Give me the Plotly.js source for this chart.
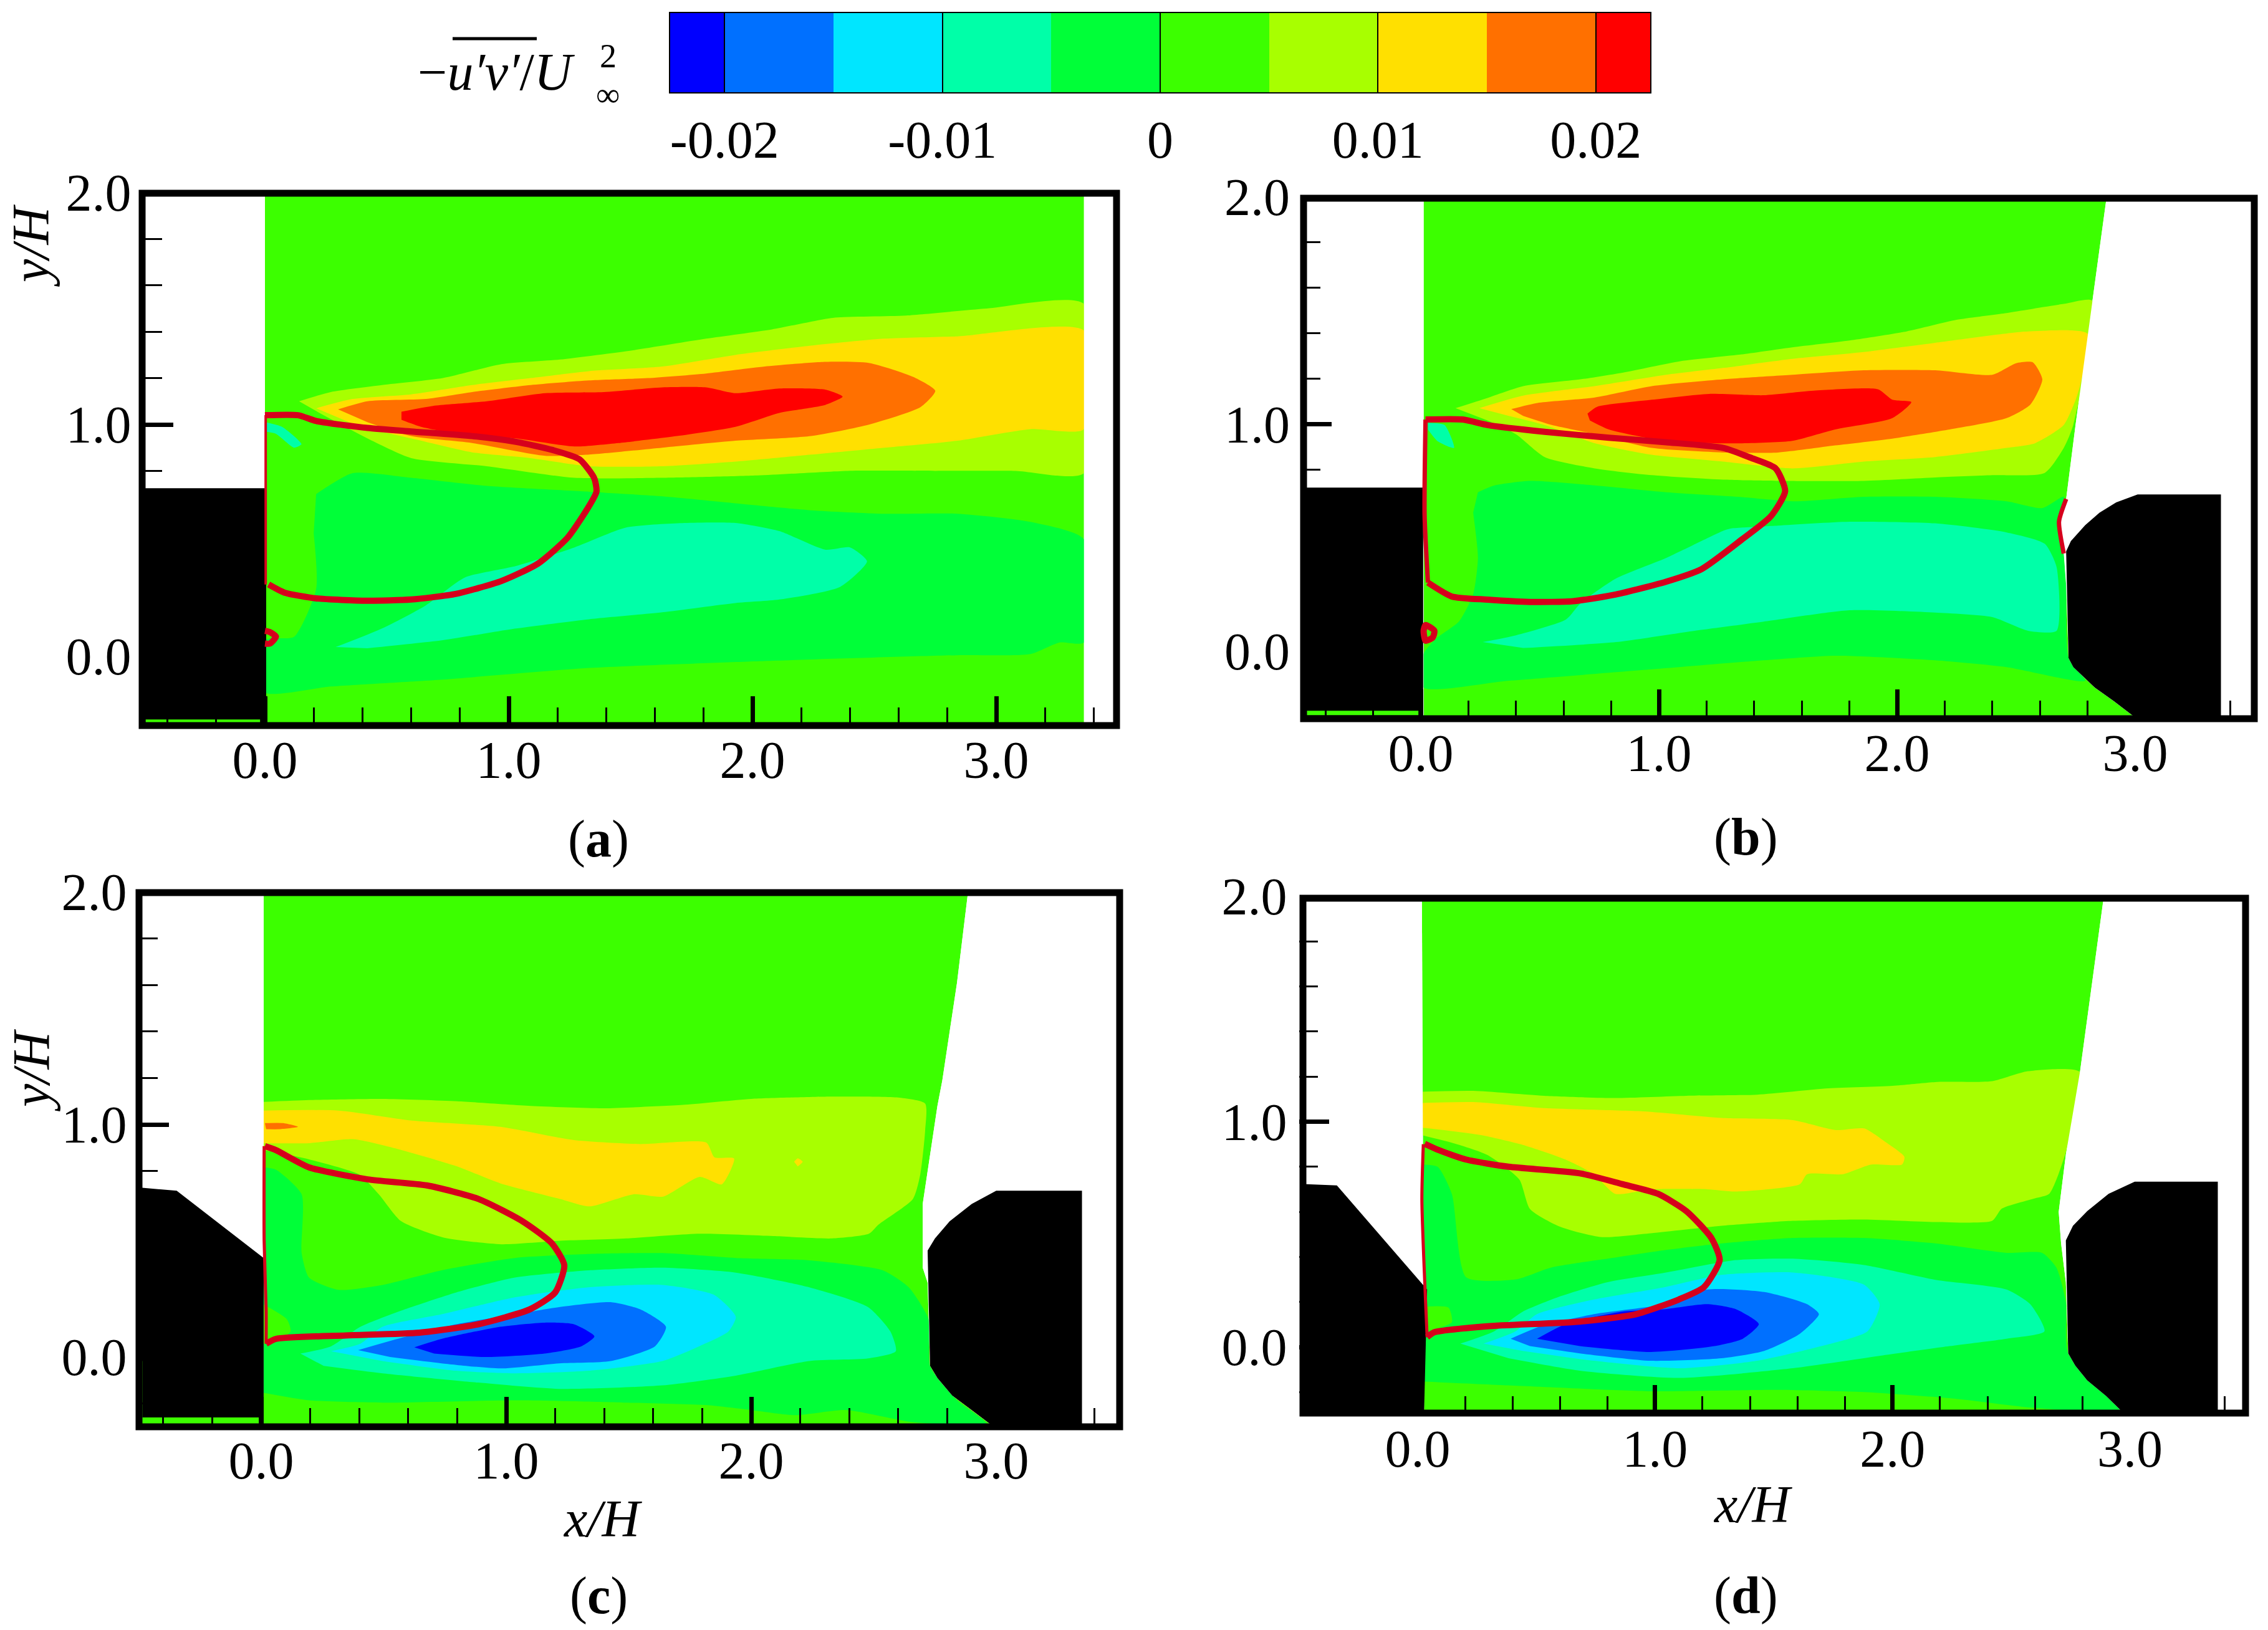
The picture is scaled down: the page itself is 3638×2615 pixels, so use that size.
<!DOCTYPE html>
<html>
<head>
<meta charset="utf-8">
<script src="https://cdn.plot.ly/plotly-3.0.1.min.js"></script>
<style>html,body{margin:0;padding:0;background:#fff}</style>
</head>
<body>
<div id="chart" style="width:3638px;height:2615px"></div>
<script>
// Colour levels of -u'v'/U^2 (legend)
const levelEdges = [-0.0225,-0.02,-0.015,-0.01,-0.005,0,0.005,0.01,0.015,0.02,0.0225];
const levelColors = ['#0000ff','#0070ff','#00e6ff','#00ffa8','#00ff38','#3cff00','#a8ff00','#ffe000','#ff7000','#ff0000'];
const levelTickVals = [-0.02,-0.01,0,0.01,0.02];
const levelTickText = ['-0.02','-0.01','0','0.01','0.02'];
const BLUE=0,MID=1,CYAN=2,TEAL=3,GREEN=4,LIME=5,YG=6,YEL=7,ORA=8,RED=9;

// ---------- panel (a) ----------
const aBase = [[0,-.3],[0,2],[3.36,2],[3.36,-.3]];
const aMaskL = [[-.5,-.3],[-.5,2],[0,2],[0,-.3]];
const aMaskR = [[3.36,-.3],[3.36,2],[3.5,2],[3.5,-.3]];
const aYG = [[.14,1.10],[.27,1.14],[.48,1.17],[.73,1.20],[.97,1.26],[1.21,1.28],[1.51,1.32],[1.81,1.37],[2.08,1.41],[2.33,1.46],[2.63,1.47],[2.96,1.50],[3.36,1.52],[3.36,.79],[3.08,.80],[2.75,.80],[2.39,.80],[2.02,.78],[1.63,.77],[1.27,.77],[.91,.82],[.60,.855],[.42,.94],[.24,1.04]];
const aYel = [[.21,1.07],[.36,1.11],[.60,1.13],[.85,1.17],[1.09,1.20],[1.33,1.23],[1.63,1.25],[1.93,1.30],[2.24,1.34],[2.54,1.37],[2.84,1.38],[3.36,1.405],[3.36,.98],[3.14,.98],[2.84,.93],[2.54,.90],[2.24,.87],[1.93,.84],[1.63,.82],[1.33,.82],[1.09,.855],[.85,.88],[.60,.94],[.39,.99]];
const aOra = [[.30,1.065],[.42,1.10],[.66,1.11],[.85,1.14],[1.09,1.17],[1.33,1.19],[1.57,1.20],[1.81,1.22],[2.05,1.25],[2.30,1.27],[2.48,1.265],[2.66,1.205],[2.75,1.145],[2.69,1.075],[2.48,1.00],[2.24,.95],[1.93,.93],[1.63,.90],[1.33,.87],[1.15,.865],[.85,.92],[.60,.95],[.42,1.01]];
const aRed = [[.56,1.055],[.69,1.08],[.91,1.10],[1.15,1.135],[1.39,1.14],[1.63,1.16],[1.81,1.16],[1.93,1.135],[2.11,1.155],[2.30,1.15],[2.37,1.12],[2.30,1.085],[2.11,1.05],[1.93,.99],[1.69,.95],[1.45,.92],[1.27,.905],[1.03,.94],[.79,.96],[.64,.99],[.56,1.02]];
const aGreen = [[.21,.70],[.36,.79],[.60,.77],[.91,.735],[1.33,.71],[1.63,.69],[1.93,.66],[2.24,.63],[2.54,.615],[2.84,.615],[3.14,.58],[3.36,.505],[3.36,.06],[3.26,.06],[3.14,.01],[2.84,.005],[2.05,-.02],[1.33,-.05],[.73,-.10],[.27,-.13],[0,-.155],[0,.07],[.12,.085],[.21,.29],[.20,.53]];
const aTeal = [[.29,.04],[.48,.12],[.66,.22],[.82,.34],[1.03,.39],[1.27,.47],[1.48,.555],[1.72,.575],[1.93,.575],[2.11,.54],[2.30,.46],[2.40,.47],[2.47,.41],[2.36,.30],[2.11,.245],[1.93,.23],[1.63,.19],[1.33,.16],[1.03,.12],[.73,.07],[.42,.035]];
const aTeal2 = [[0,1.01],[.07,.99],[.15,.915],[.12,.90],[.045,.96],[0,.97]];
const aBlack = [[-.5,-.3],[-.5,.725],[.005,.725],[.005,-.3]];
const aStrip = [[-.49,-.29],[-.02,-.29],[-.02,-.272],[-.49,-.272]];
const aSep = [[0,1.04],[.136,1.04],[.21,1.015],[.42,.985],[.60,.97],[.85,.95],[1.03,.925],[1.18,.89],[1.29,.85],[1.35,.77],[1.36,.71],[1.31,.615],[1.24,.51],[1.12,.40],[.97,.325],[.785,.27],[.60,.245],[.42,.24],[.21,.25],[.08,.275],[.015,.31]];
const aLoop = [[0,.11],[.02,.105],[.045,.085],[.02,.055],[0,.055]];
const aSepWall = [[.003,1.04],[.003,.31]];

// ---------- panel (b) ----------
const bWallUp = [[2.88,2],[2.82,1.54],[2.75,1.0],[2.71,.67],[2.68,.57],[2.70,.43],[2.71,.29]];
const bArcLow = [[2.72,-.03],[2.74,-.07],[2.79,-.12],[2.83,-.16],[2.91,-.22],[3.01,-.3]];
const bBase = [[.012,2],...bWallUp,...bArcLow,[.012,-.3]];
const bMaskL = [[-.5,-.3],[-.5,2],[.012,2],[.012,-.3]];
const bMaskR = [...bWallUp,...bArcLow,[3.5,-.3],[3.5,2]];
const bYG = [[.146,1.07],[.28,1.115],[.43,1.167],[.67,1.197],[.85,1.227],[1.09,1.277],[1.355,1.308],[1.56,1.338],[1.80,1.368],[2.04,1.408],[2.25,1.459],[2.46,1.489],[2.70,1.529],[2.82,1.543],[2.74,.996],[2.70,.895],[2.62,.785],[2.40,.775],[2.16,.765],[1.86,.75],[1.53,.75],[1.27,.755],[.97,.775],[.73,.805],[.52,.855],[.40,.955],[.28,1.016]];
const bYel = [[.246,1.07],[.43,1.125],[.73,1.167],[1.03,1.217],[1.27,1.247],[1.56,1.287],[1.86,1.317],[2.16,1.358],[2.55,1.408],[2.80,1.398],[2.77,1.177],[2.75,1.107],[2.70,.996],[2.58,.916],[2.46,.895],[2.16,.855],[1.86,.835],[1.56,.805],[1.27,.835],[.97,.865],[.73,.916],[.52,.996],[.37,1.036]];
const bOra = [[.38,1.066],[.49,1.093],[.73,1.117],[.97,1.167],[1.27,1.197],[1.56,1.217],[1.86,1.237],[2.16,1.237],[2.40,1.217],[2.50,1.268],[2.57,1.272],[2.61,1.197],[2.56,1.086],[2.46,1.026],[2.22,.976],[1.98,.936],[1.74,.906],[1.50,.875],[1.27,.875],[.97,.895],[.73,.956],[.55,.996],[.43,1.036]];
const bRed = [[.70,1.046],[.74,1.076],[.97,1.107],[1.21,1.133],[1.44,1.127],[1.65,1.147],[1.92,1.153],[1.98,1.107],[2.06,1.097],[1.98,1.026],[1.74,.976],[1.56,.926],[1.32,.915],[1.03,.925],[.79,.976],[.71,1.016]];
const bGreen = [[.24,.70],[.31,.73],[.46,.75],[.73,.73],[1.03,.70],[1.33,.68],[1.57,.66],[1.86,.68],[2.16,.68],[2.46,.66],[2.61,.63],[2.70,.68],[2.68,.57],[2.70,.43],[2.71,.29],[2.72,-.03],[2.79,-.13],[2.46,-.07],[2.16,-.04],[1.74,-.02],[1.44,-.04],[.97,-.08],[.37,-.13],[.012,-.16],[.012,-.01],[.07,.06],[.16,.13],[.22,.25],[.24,.41],[.22,.61]];
const bTeal = [[.26,.04],[.40,.07],[.61,.14],[.67,.21],[.82,.32],[1.03,.41],[1.27,.53],[1.30,.54],[1.50,.553],[1.80,.57],[2.16,.563],[2.46,.523],[2.62,.473],[2.67,.37],[2.67,.09],[2.55,.09],[2.40,.15],[2.16,.17],[1.80,.18],[1.44,.13],[1.15,.09],[.82,.04],[.43,.014]];
const bTeal2 = [[.03,1.006],[.10,.996],[.14,.895],[.07,.925],[.03,.976]];
const bBlack = [[-.5,-.3],[-.5,.72],[.01,.72],[.01,-.3]];
const bStrip = [[-.484,-.282],[-.01,-.282],[-.01,-.262],[-.484,-.262]];
const bArcUp = [[2.71,.44],[2.73,.485],[2.79,.555],[2.85,.61],[2.92,.655],[3.01,.69]];
const bBlack2 = [...bArcUp,[3.36,.69],[3.36,-.3],...bArcLow.slice().reverse()];
const bSep = [[.02,1.02],[.176,1.02],[.28,.996],[.52,.966],[.79,.94],[1.03,.92],[1.27,.895],[1.39,.85],[1.49,.805],[1.53,.704],[1.47,.594],[1.35,.493],[1.18,.362],[1.03,.306],[.82,.25],[.64,.22],[.46,.217],[.28,.227],[.13,.241],[.03,.302]];
const bLoop = [[.02,.115],[.057,.09],[.05,.06],[.02,.046],[.012,.09],[.02,.115]];
const bSepWall = [[.02,1.02],[.016,.6],[.03,.302]];
const bSepWall2 = [[2.71,.67],[2.68,.57],[2.70,.43]];

// ---------- panel (c) ----------
const cWallUp = [[2.885,2],[2.84,1.61],[2.78,1.19],[2.76,1.08],[2.70,.658],[2.70,.384],[2.72,.32]];
const cArcLow = [[2.73,-.038],[2.76,-.09],[2.82,-.165],[2.90,-.228],[2.99,-.3]];
const cBase = [[.01,2],...cWallUp,...cArcLow,[.01,-.3]];
const cMaskL = [[-.5,-.3],[-.5,2],[.01,2],[.01,-.3]];
const cMaskR = [...cWallUp,...cArcLow,[3.5,-.3],[3.5,2]];
const cYG = [[.01,1.097],[.195,1.105],[.495,1.11],[.80,1.10],[1.10,1.08],[1.40,1.07],[1.73,1.085],[2.0,1.11],[2.33,1.12],[2.60,1.116],[2.71,1.09],[2.71,.975],[2.69,.785],[2.66,.68],[2.52,.57],[2.48,.53],[2.33,.51],[2.09,.52],[1.79,.53],[1.49,.51],[1.22,.50],[.98,.485],[.74,.515],[.57,.585],[.48,.70],[.40,.785],[.195,.85],[.01,.89]];
const cYel = [[.01,1.06],[.315,1.06],[.615,1.017],[.976,.99],[1.276,.933],[1.546,.916],[1.817,.922],[1.85,.859],[1.93,.854],[1.88,.743],[1.79,.775],[1.64,.69],[1.52,.70],[1.34,.648],[1.22,.68],[.976,.747],[.796,.821],[.556,.895],[.375,.937],[.195,.92],[.01,.92]];
const cYel2 = [[2.175,.84],[2.19,.855],[2.21,.84],[2.19,.82]];
const cOra = [[.015,1.006],[.09,1.006],[.15,.99],[.075,.98],[.02,.98]];
const cGreen = [[.01,.816],[.06,.806],[.165,.70],[.165,.447],[.195,.342],[.315,.289],[.495,.31],[.736,.373],[1.036,.426],[1.336,.443],[1.637,.447],[1.937,.426],[2.237,.416],[2.537,.373],[2.643,.30],[2.724,.162],[2.73,-.04],[2.84,-.186],[2.96,-.287],[2.66,-.28],[2.39,-.228],[2.18,-.25],[2.0,-.228],[1.82,-.207],[1.49,-.196],[1.036,-.186],[.495,-.196],[.195,-.186],[.01,-.154]];
const cLime = [[.01,.226],[.105,.162],[.12,.11],[.045,.057],[.01,.057]];
const cTeal = [[.16,.015],[.285,.046],[.405,.13],[.586,.205],[.796,.278],[1.036,.342],[1.336,.373],[1.637,.384],[1.937,.363],[2.237,.30],[2.477,.215],[2.568,.11],[2.59,.025],[2.477,-.006],[2.237,-.017],[1.937,-.08],[1.637,-.122],[1.216,-.137],[.886,-.11],[.495,-.07],[.255,-.038]];
const cCyan = [[.285,.025],[.405,.057],[.495,.13],[.736,.184],[1.036,.257],[1.336,.30],[1.637,.31],[1.847,.268],[1.937,.173],[1.907,.11],[1.787,.046],[1.637,-.017],[1.336,-.059],[1.036,-.07],[.796,-.059],[.495,-.017]];
const cMid = [[.396,.03],[.556,.078],[.796,.141],[1.036,.184],[1.216,.215],[1.426,.236],[1.547,.205],[1.652,.13],[1.607,.046],[1.426,-.017],[1.216,-.027],[.976,-.049],[.736,-.027],[.526,0]];
const cBlue = [[.625,.042],[.736,.078],[.976,.13],[1.156,.148],[1.276,.141],[1.36,.089],[1.306,.046],[1.156,.015],[.916,0],[.706,.015]];
const cBlack = [[-.486,.728],[-.345,.715],[.01,.426],[.01,-.3],[-.486,-.3]];
const cStrip = [[-.5,-.3],[-.01,-.3],[-.01,-.26],[-.5,-.26]];
const cStrip2 = [[-.5,-.26],[-.485,-.26],[-.485,-.017],[-.5,-.017]];
const cArcUp = [[2.72,.458],[2.75,.51],[2.81,.584],[2.90,.658],[3.0,.715]];
const cBlack2 = [...cArcUp,[3.35,.715],[3.35,-.3],...cArcLow.slice().reverse()];
const cSep = [[.015,.907],[.06,.89],[.195,.816],[.435,.764],[.676,.738],[.886,.68],[1.066,.584],[1.186,.489],[1.237,.395],[1.20,.278],[1.096,.205],[.886,.141],[.646,.105],[.345,.093],[.06,.078],[.02,.057]];
const cSepWall = [[.012,.907],[.012,.5],[.02,.2],[.02,.057]];

// ---------- panel (d) ----------
const dWallUp = [[2.89,2],[2.79,1.224],[2.73,.854],[2.70,.60],[2.71,.46],[2.73,.288]];
const dArcLow = [[2.74,-.028],[2.77,-.083],[2.82,-.148],[2.90,-.218],[2.98,-.3]];
const dBase = [[.018,2],...dWallUp,...dArcLow,[.027,-.3]];
const dMaskL = [[-.5,-.3],[-.5,2],[.018,2],[.027,-.3]];
const dMaskR = [...dWallUp,...dArcLow,[3.5,-.3],[3.5,2]];
const dYG = [[.018,1.133],[.234,1.137],[.533,1.115],[.832,1.105],[1.132,1.115],[1.43,1.12],[1.73,1.148],[2.0,1.159],[2.18,1.176],[2.42,1.18],[2.57,1.224],[2.79,1.22],[2.73,.865],[2.66,.68],[2.60,.66],[2.46,.614],[2.42,.56],[2.18,.555],[1.88,.566],[1.58,.56],[1.28,.538],[.983,.505],[.77,.488],[.593,.537],[.473,.613],[.428,.744],[.293,.853],[.144,.907],[.018,.94]];
const dYel = [[.018,1.083],[.234,1.087],[.533,1.06],[.95,1.046],[1.28,1.017],[1.58,1.007],[1.76,.963],[1.88,.97],[1.97,.91],[2.05,.844],[2.04,.81],[1.91,.81],[1.79,.767],[1.64,.767],[1.61,.723],[1.34,.69],[1.22,.70],[.983,.70],[.832,.68],[.743,.767],[.623,.832],[.443,.897],[.263,.941],[.018,.974]];
const dGreen = [[.018,.81],[.084,.80],[.144,.68],[.204,.31],[.413,.30],[.563,.353],[.832,.397],[1.042,.43],[1.28,.46],[1.58,.484],[1.88,.484],[2.18,.46],[2.48,.418],[2.63,.418],[2.69,.353],[2.73,.20],[2.74,-.03],[2.98,-.276],[2.60,-.27],[2.27,-.23],[1.88,-.20],[1.52,-.19],[.983,-.196],[.383,-.17],[.027,-.153]];
const dLime = [[.04,.18],[.13,.175],[.144,.11],[.04,.07]];
const dTeal = [[.18,.015],[.323,.07],[.443,.157],[.593,.222],[.80,.288],[1.042,.33],[1.34,.386],[1.58,.392],[1.88,.364],[2.18,.298],[2.48,.255],[2.58,.19],[2.64,.07],[2.48,.037],[2.24,.004],[1.94,-.04],[1.58,-.094],[1.10,-.137],[.683,-.105],[.383,-.05]];
const dCyan = [[.278,.015],[.413,.07],[.503,.146],[.743,.211],[1.042,.266],[1.28,.32],[1.58,.331],[1.88,.277],[1.946,.19],[1.895,.07],[1.70,.004],[1.43,-.061],[1.10,-.094],[.743,-.061],[.443,-.017]];
const dMid = [[.392,.037],[.518,.092],[.743,.146],[1.042,.19],[1.22,.255],[1.46,.244],[1.64,.19],[1.69,.146],[1.61,.059],[1.46,-.017],[1.28,-.05],[.983,-.061],[.683,-.028],[.473,.004]];
const dBlue = [[.503,.037],[.623,.102],[.862,.157],[1.042,.168],[1.22,.19],[1.34,.168],[1.437,.102],[1.37,.037],[1.25,.004],[.983,-.022],[.683,.004]];
const dBlack = [[-.47,.723],[-.34,.717],[.04,.255],[.027,-.3],[-.47,-.3]];
const dStrip = [[-.485,-.3],[-.472,-.3],[-.472,0],[-.485,0]];
const dArcUp = [[2.73,.473],[2.76,.538],[2.82,.603],[2.91,.68],[3.02,.734]];
const dBlack2 = [...dArcUp,[3.37,.734],[3.37,-.3],...dArcLow.slice().reverse()];
const dSep = [[.03,.902],[.084,.876],[.204,.832],[.383,.80],[.683,.771],[.862,.723],[1.012,.68],[1.132,.603],[1.237,.484],[1.272,.386],[1.206,.266],[1.10,.211],[.92,.146],[.683,.113],[.293,.092],[.069,.065],[.04,.044]];
const dSepWall = [[.024,.9],[.018,.653],[.04,.044]];

// Table built from the arrays: painter's order per panel
const panels = [
  {id:'', fills:[[aYG,YG],[aYel,YEL],[aOra,ORA],[aRed,RED],[aGreen,GREEN],[aTeal,TEAL],[aTeal2,TEAL]], base:aBase, masks:[aMaskL,aMaskR], black:[aBlack], strips:[aStrip], sep:[aSep,aLoop], wall:[aSepWall], wallW:4, box:[229.5,1793.5,309,1164.6], frame:[228,1791,310,1164]},
  {id:'2', fills:[[bYG,YG],[bYel,YEL],[bOra,ORA],[bRed,RED],[bGreen,GREEN],[bTeal,TEAL],[bTeal2,TEAL]], base:bBase, masks:[bMaskL,bMaskR], black:[bBlack,bBlack2], strips:[bStrip], sep:[bSep,bLoop], wall:[bSepWall,bSepWall2], wallW:7, box:[2088,3616,316,1154], frame:[2091,3616,318,1153]},
  {id:'3', fills:[[cYG,YG],[cYel,YEL],[cYel2,YEL],[cOra,ORA],[cGreen,GREEN],[cLime,LIME],[cTeal,TEAL],[cCyan,CYAN],[cMid,MID],[cBlue,BLUE]], base:cBase, masks:[cMaskL,cMaskR], black:[cBlack,cBlack2], strips:[cStrip,cStrip2], sep:[cSep], wall:[cSepWall], wallW:5, box:[222.5,1794.5,1431,2289], frame:[223,1796,1432,2289]},
  {id:'4', fills:[[dYG,YG],[dYel,YEL],[dGreen,GREEN],[dLime,LIME],[dTeal,TEAL],[dCyan,CYAN],[dMid,MID],[dBlue,BLUE]], base:dBase, masks:[dMaskL,dMaskR], black:[dBlack,dBlack2], strips:[dStrip], sep:[dSep], wall:[dSepWall], wallW:5, box:[2083.5,3607,1438,2269.5], frame:[2090,3602,1441,2267]}
];
const WIDTH = 3638, HEIGHT = 2615;
const SERIF = 'Liberation Serif';
const TICK_SIZE = 84;
const traces = [];
const layout = {
  width: WIDTH, height: HEIGHT, margin:{l:0,r:0,t:0,b:0}, showlegend:false,
  paper_bgcolor:'#ffffff', plot_bgcolor:'rgba(0,0,0,0)', font:{family:SERIF,size:TICK_SIZE,color:'#000'},
  barmode:'overlay', bargap:0, shapes:[], annotations:[]
};
function poly(pts, color, id, smooth){
  traces.push({type:'scatter',mode:'lines',x:pts.map(p=>p[0]),y:pts.map(p=>p[1]),fill:'toself',fillcolor:color,
    line:{width:0,color:color,shape:smooth?'spline':'linear',smoothing:0.6},hoverinfo:'skip',xaxis:'x'+id,yaxis:'y'+id});
}
function stroke(pts, width, id){
  traces.push({type:'scatter',mode:'lines',x:pts.map(q=>q[0]),y:pts.map(q=>q[1]),
    line:{color:'#d6001c',width:width,shape:'spline',smoothing:0.6},hoverinfo:'skip',xaxis:'x'+id,yaxis:'y'+id});
}
panels.forEach(p=>{
  poly(p.base,levelColors[LIME],p.id,false);
  p.fills.forEach(f=>poly(f[0],levelColors[f[1]],p.id,true));
  p.masks.forEach(m=>poly(m,'#ffffff',p.id,false));
  p.black.forEach(b=>poly(b,'#000000',p.id,false));
  p.strips.forEach(s=>poly(s,levelColors[LIME],p.id,false));
  p.wall.forEach(s=>stroke(s,p.wallW,p.id));
  p.sep.forEach(s=>stroke(s,10,p.id));
  const b=p.box;
  const common={showgrid:false,zeroline:false,showline:false,ticks:'inside',tickcolor:'#000',tickformat:'.1f',tick0:0,dtick:1,
    tickfont:{family:SERIF,size:TICK_SIZE,color:'#000'},layer:'above traces',ticklen:48,tickwidth:7};
  const minor={ticks:'inside',ticklen:30,tickwidth:3,dtick:.2,tick0:0,tickcolor:'#000',showgrid:false};
  layout['xaxis'+p.id]=Object.assign({},common,{anchor:'y'+p.id,range:[-.5,3.5],domain:[b[0]/WIDTH,b[1]/WIDTH],ticklabelstandoff:-2,minor:minor});
  layout['yaxis'+p.id]=Object.assign({},common,{anchor:'x'+p.id,range:[-.3,2],domain:[1-b[3]/HEIGHT,1-b[2]/HEIGHT],ticklabelstandoff:18,minor:minor});
  const f=p.frame;
  layout.shapes.push({type:'rect',xref:'paper',yref:'paper',x0:f[0]/WIDTH,x1:f[1]/WIDTH,y0:1-f[3]/HEIGHT,y1:1-f[2]/HEIGHT,
    line:{color:'#000',width:11},fillcolor:'rgba(0,0,0,0)',layer:'above'});
});

// Legend bar on its own axis
traces.push({type:'bar',orientation:'h',y:levelColors.map(()=>0),base:levelEdges.slice(0,-1),
  x:levelColors.map((c,i)=>levelEdges[i+1]-levelEdges[i]),marker:{color:levelColors,line:{width:0}},width:1,
  hoverinfo:'skip',xaxis:'x5',yaxis:'y5'});
layout.xaxis5={anchor:'y5',range:[-0.0225,0.0225],domain:[1075/WIDTH,2647/WIDTH],tickmode:'array',tickvals:levelTickVals,ticktext:levelTickText,
  ticks:'inside',ticklen:127,tickwidth:2,tickcolor:'#000',showline:true,linecolor:'#000',linewidth:2,mirror:true,showgrid:false,zeroline:false,
  tickfont:{family:SERIF,size:TICK_SIZE,color:'#000'},ticklabelstandoff:2,layer:'above traces'};
layout.yaxis5={anchor:'x5',range:[-.5,.5],domain:[1-148/HEIGHT,1-21/HEIGHT],showticklabels:false,ticks:'',showline:true,linecolor:'#000',linewidth:2,mirror:true,showgrid:false,zeroline:false};

// Text placed on the page
function label(txt,x,y,size,rot,anchor){
  layout.annotations.push({text:txt,xref:'paper',yref:'paper',x:x/WIDTH,y:1-y/HEIGHT,showarrow:false,
    font:{family:SERIF,size:size,color:'#000'},textangle:rot||0,xanchor:anchor||'center',yanchor:'middle'});
}
const captions = [['(<b>a</b>)',960,1346],['(<b>b</b>)',2800,1343],['(<b>c</b>)',960,2560],['(<b>d</b>)',2800,2560]];
captions.forEach(c=>label(c[0],c[1],c[2],84));
const yTitles = [[50,394],[50,1717]];
yTitles.forEach(t=>label('<i>y/H</i>',t[0],t[1],84,-90));
const xTitles = [[967,2436],[2812,2413]];
xTitles.forEach(t=>label('<i>x/H</i>',t[0],t[1],84));
label('\u2212<i>u\u2032v\u2032</i>/<i>U</i>',668,116,84,0,'left');
label('2',975,90,54);
label('\u221E',975,152,54);
layout.shapes.push({type:'line',xref:'paper',yref:'paper',x0:726/WIDTH,x1:861/WIDTH,y0:1-62/HEIGHT,y1:1-62/HEIGHT,line:{color:'#000',width:5}});

Plotly.newPlot('chart',traces,layout,{displayModeBar:false,staticPlot:true});
</script>
</body>
</html>
